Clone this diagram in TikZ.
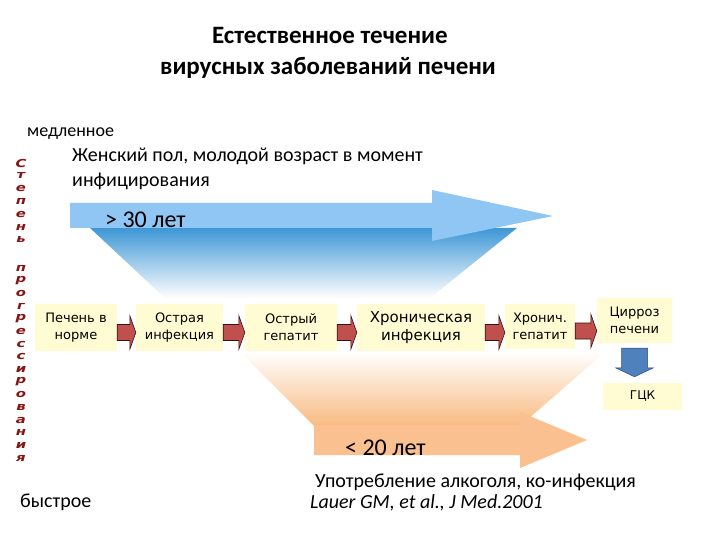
\documentclass[tikz,border=0pt]{standalone}
\usepackage{fontspec}
\setmainfont{Carlito}
\newfontfamily\verd{DejaVu Sans}
\newfontfamily\wordart{DejaVu Sans}
\usetikzlibrary{calc}
\definecolor{boxfill}{HTML}{FFFBD2}
\definecolor{redarr}{HTML}{C0504D}
\definecolor{redline}{HTML}{3A1010}
\definecolor{bluearr}{HTML}{8FC6F3}
\definecolor{bluegrad}{HTML}{3E97D6}
\definecolor{orangearr}{HTML}{FAC08F}
\definecolor{orangegrad}{HTML}{F8BA80}
\definecolor{dnarrow}{HTML}{4F81BD}
\definecolor{wared}{HTML}{861616}
\tikzset{
  stagebox/.style={fill=boxfill, draw=none, align=center, inner sep=0pt, font=\verd\fontsize{13}{17}\selectfont},
  txt/.style={inner sep=0pt, anchor=base west},
  redarrow/.style={fill=redarr, draw=redline, line width=0.6pt, line join=miter},
  vletter/.style={inner sep=0pt, text=wared, xscale=1.35, transform shape, font=\wordart\bfseries\itshape\fontsize{11}{11}\selectfont}
}
\newcommand\stagearrow[2]{%
  \draw[redarrow] let \p1=([yshift=-5pt]#1.east), \p2=([yshift=-5pt]#2.west) in
    (\x1,\y1+8pt) -- (\x2-6pt,\y1+8pt) -- (\x2-6pt,\y1+17pt) -- (\x2,\y1)
    -- (\x2-6pt,\y1-17pt) -- (\x2-6pt,\y1-8pt) -- (\x1,\y1-8pt) -- cycle;}
\begin{document}
\begin{tikzpicture}[x=1pt,y=-1pt]
\useasboundingbox[fill=white] (0,0) rectangle (720,540);

% blue gradient and arrow
\shade[top color=bluegrad, bottom color=white] (90,228) -- (517,228) -- (430,298) -- (165,298) -- cycle;
\fill[bluearr] (70,203) -- (432,203) -- (432,190) -- (553,216) -- (432,241) -- (432,228) -- (70,228) -- cycle;

% orange gradient and arrow
\shade[top color=white, bottom color=orangegrad] (240,352) -- (605,352) -- (520,426) -- (314,426) -- cycle;
\fill[orangearr] (314,425) -- (520,425) -- (520,412) -- (587,440) -- (520,468) -- (520,455) -- (314,455) -- cycle;

% title
\node[inner sep=0pt, anchor=base, font=\bfseries\fontsize{25}{28}\selectfont] (t1) at (330,44) {Естественное течение};
\node[inner sep=0pt, anchor=base, font=\bfseries\fontsize{25}{28}\selectfont] (t2) at (328,75) {вирусных заболеваний печени};

% texts
\node[txt, font=\fontsize{18}{20}\selectfont] (slow) at (27,137) {медленное};
\node[txt, font=\fontsize{20}{22}\selectfont] (f1) at (72,162) {Женский пол, молодой возраст в момент};
\node[txt, font=\fontsize{20}{22}\selectfont] (f2) at (72,187) {инфицирования};
\node[txt, font=\fontsize{24}{26}\selectfont] (g30) at (105,228) {> 30 лет};
\node[txt, font=\fontsize{24}{26}\selectfont] (l20) at (345,455) {< 20 лет};
\node[txt, font=\fontsize{20}{22}\selectfont] (alc) at (315,487) {Употребление алкоголя, ко-инфекция};
\node[txt, font=\itshape\fontsize{20}{22}\selectfont] (ref) at (310,508) {Lauer GM, et al., J Med.2001};
\node[txt, font=\fontsize{20}{22}\selectfont] (fast) at (20,507) {быстрое};

% stage boxes
\node[stagebox, minimum width=82pt, minimum height=47pt] (b1) at (76,327.5) {Печень в\\норме};
\node[stagebox, minimum width=87pt, minimum height=47pt] (b2) at (179.5,327.5) {Острая\\инфекция};
\node[stagebox, minimum width=92pt, minimum height=47pt] (b3) at (291,327.5) {Острый\\гепатит};
\node[stagebox, minimum width=128pt, minimum height=47pt, font=\verd\fontsize{15}{18}\selectfont] (b4) at (421,327.5) {Хроническая\\инфекция};
\node[stagebox, minimum width=70pt, minimum height=45pt] (b5) at (540,326) {Хронич.\\гепатит};
\node[stagebox, minimum width=75pt, minimum height=45pt] (b6) at (634.5,320.5) {Цирроз\\печени};
\node[stagebox, minimum width=79pt, minimum height=27pt, font=\verd\fontsize{12}{14}\selectfont] (b7) at (642.5,396.5) {ГЦК};

\stagearrow{b1}{b2}
\stagearrow{b2}{b3}
\stagearrow{b3}{b4}
\stagearrow{b4}{b5}
\stagearrow{b5}{b6}

% down arrow
\draw[fill=dnarrow, draw=dnarrow!60!black, line width=0.5pt] let \p1=([yshift=-5pt]b6.south), \p2=([yshift=6pt]b7.north) in
  (\x1-13pt,\y1) -- (\x1+13pt,\y1) -- (\x1+13pt,\y2+9pt) -- (\x1+19pt,\y2+9pt) -- (\x1,\y2)
  -- (\x1-19pt,\y2+9pt) -- (\x1-13pt,\y2+9pt) -- cycle;

% vertical word
\foreach \ch [count=\i] in {С,т,е,п,е,н,ь}
  \node[vletter] (va\i) at (21,{163+(\i-1)*12.8}) {\ch};
\foreach \ch [count=\i] in {п,р,о,г,р,е,с,с,и,р,о,в,а,н,и,я}
  \node[vletter] (vb\i) at (21,{268+(\i-1)*12.67}) {\ch};
\end{tikzpicture}
\end{document}
